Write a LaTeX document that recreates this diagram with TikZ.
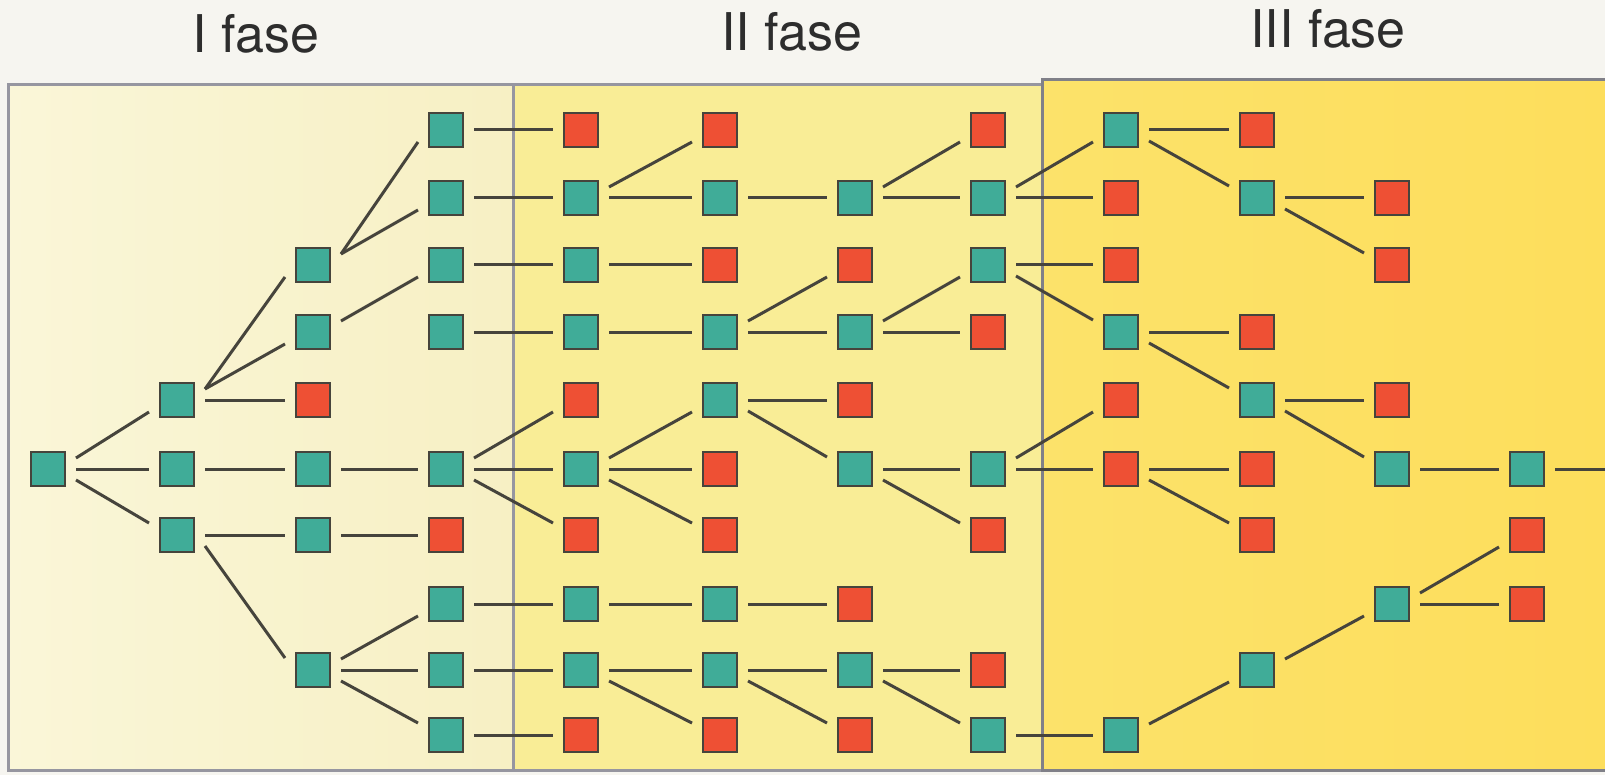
\documentclass[tikz,border=0pt]{standalone}
\usepackage{fontspec}
\setmainfont{TeX Gyre Heros}
\usetikzlibrary{calc}
\definecolor{tealsq}{RGB}{64,172,152}
\definecolor{redsq}{RGB}{238,80,52}
\definecolor{edgecol}{RGB}{70,68,60}
\definecolor{framecol}{RGB}{150,150,160}
\definecolor{bgI}{RGB}{247,240,196}
\definecolor{bgIa}{RGB}{250,246,216}
\definecolor{bgII}{RGB}{249,237,150}
\definecolor{bgIII}{RGB}{252,226,106}
\definecolor{bgIIIb}{RGB}{253,222,92}
\definecolor{paper}{RGB}{246,245,240}
\definecolor{titlecol}{RGB}{45,45,45}
\begin{document}
\begin{tikzpicture}[x=1pt,y=-1pt,
  sq/.style={rectangle,minimum size=34pt,inner sep=0pt,outer sep=0pt,draw=edgecol,line width=2pt},
  sqT/.style={sq,fill=tealsq},
  sqR/.style={sq,fill=redsq},
  edge/.style={draw=edgecol,line width=3pt},
  title/.style={font=\fontsize{52}{60}\selectfont,text=titlecol,anchor=base}]
\useasboundingbox (0,0) rectangle (1605,775);
\fill[paper] (0,0) rectangle (1605,775);
% phase backgrounds
\shade[left color=bgIa,right color=bgI] (8,85) rectangle (513,770);
\fill[bgII] (513,85) rectangle (1042,770);
\shade[left color=bgIII,right color=bgIIIb] (1042,80) rectangle (1605,770);
\draw[framecol,line width=3pt] (8,85) rectangle (513,770);
\draw[framecol,line width=3pt] (513,85) rectangle (1042,770);
\draw[framecol!85!black,line width=3pt] (1605,80) -- (1042,80) -- (1042,770) -- (1605,770);
% titles
\node[title] (t1) at (256,53) {I fase};
\node[title] (t2) at (792,51) {II fase};
\node[title] (t3) at (1328,48) {III fase};
% nodes
\def\cx{{48,177,313,446,581,720,855,988,1121,1257,1392,1527}}
\def\ry{{130,198,265,332,400,469,535,604,670,735}}
\foreach \c/\r/\t in {
 0/5/T,
 1/4/T,1/5/T,1/6/T,
 2/2/T,2/3/T,2/4/R,2/5/T,2/6/T,2/8/T,
 3/0/T,3/1/T,3/2/T,3/3/T,3/5/T,3/6/R,3/7/T,3/8/T,3/9/T,
 4/0/R,4/1/T,4/2/T,4/3/T,4/4/R,4/5/T,4/6/R,4/7/T,4/8/T,4/9/R,
 5/0/R,5/1/T,5/2/R,5/3/T,5/4/T,5/5/R,5/6/R,5/7/T,5/8/T,5/9/R,
 6/1/T,6/2/R,6/3/T,6/4/R,6/5/T,6/7/R,6/8/T,6/9/R,
 7/0/R,7/1/T,7/2/T,7/3/R,7/5/T,7/6/R,7/8/R,7/9/T,
 8/0/T,8/1/R,8/2/R,8/3/T,8/4/R,8/5/R,8/9/T,
 9/0/R,9/1/T,9/3/R,9/4/T,9/5/R,9/6/R,9/8/T,
 10/1/R,10/2/R,10/4/R,10/5/T,10/7/T,
 11/5/T,11/6/R,11/7/R}{
  \pgfmathsetmacro\xx{\cx[\c]}
  \pgfmathsetmacro\yy{\ry[\r]}
  \node[sq\t] (n\c-\r) at (\xx,\yy) {};
}
\coordinate (offr) at (1605,469);
% edges: source column/row, target column/row
\foreach \ca/\ra/\cb/\rb in {
 0/5/1/4,0/5/1/5,0/5/1/6,
 1/4/2/2,1/4/2/3,1/4/2/4,1/5/2/5,1/6/2/6,1/6/2/8,
 2/2/3/0,2/2/3/1,2/3/3/2,2/5/3/5,2/6/3/6,2/8/3/7,2/8/3/8,2/8/3/9,
 3/0/4/0,3/1/4/1,3/2/4/2,3/3/4/3,3/5/4/4,3/5/4/5,3/5/4/6,3/7/4/7,3/8/4/8,3/9/4/9,
 4/1/5/0,4/1/5/1,4/2/5/2,4/3/5/3,4/5/5/4,4/5/5/5,4/5/5/6,4/7/5/7,4/8/5/8,4/8/5/9,
 5/1/6/1,5/3/6/2,5/3/6/3,5/4/6/4,5/4/6/5,5/7/6/7,5/8/6/8,5/8/6/9,
 6/1/7/0,6/1/7/1,6/3/7/2,6/3/7/3,6/5/7/5,6/5/7/6,6/8/7/8,6/8/7/9,
 7/1/8/0,7/1/8/1,7/2/8/2,7/2/8/3,7/5/8/4,7/5/8/5,7/9/8/9,
 8/0/9/0,8/0/9/1,8/3/9/3,8/3/9/4,8/5/9/5,8/5/9/6,8/9/9/8,
 9/1/10/1,9/1/10/2,9/4/10/4,9/4/10/5,9/8/10/7,
 10/5/11/5,10/7/11/6,10/7/11/7}{
  \pgfmathsetmacro\s{sign(\rb-\ra)}
  \pgfmathsetmacro\da{11*\s}
  \pgfmathsetmacro\db{-12*\s}
  \draw[edge] ($(n\ca-\ra.east)+(11,\da)$) -- ($(n\cb-\rb.west)+(-11,\db)$);
}
\draw[edge] ($(n11-5.east)+(11,0)$) -- (offr);
\end{tikzpicture}
\end{document}
